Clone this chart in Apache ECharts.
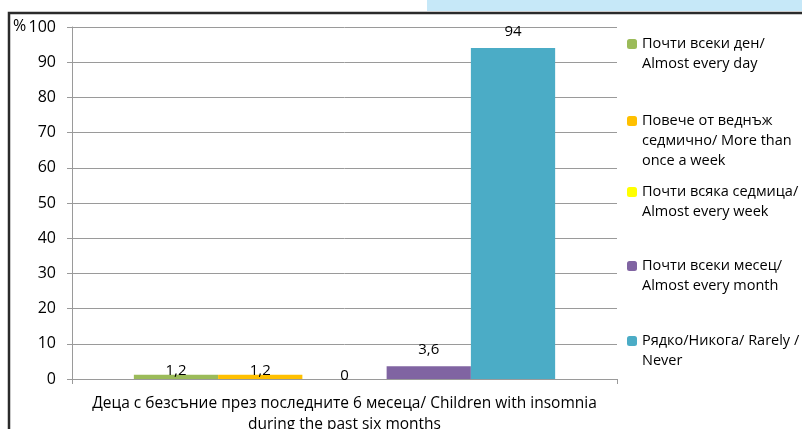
<!DOCTYPE html>
<html>
<head>
<meta charset="utf-8">
<script src="https://cdn.jsdelivr.net/npm/echarts@6/dist/echarts.min.js"></script>
<style>
  html, body { margin: 0; padding: 0; background: #fff; }
  #chart { width: 802px; height: 429px; }
</style>
</head>
<body>
<div id="chart"></div>
<script>
// Insomnia frequency among children (past six months), in percent
const categories = ['Деца с безсъние през последните 6 месеца/ Children with insomnia\nduring the past six months'];
const seriesNames = [
  'Почти всеки ден/ Almost every day',
  'Повече от веднъж седмично/ More than once a week',
  'Почти всяка седмица/ Almost every week',
  'Почти всеки месец/ Almost every month',
  'Рядко/Никога/ Rarely / Never'
];
const legendLinesText = [
  ['Почти всеки ден/', 'Almost every day'],
  ['Повече от веднъж', 'седмично/ More than', 'once a week'],
  ['Почти всяка седмица/', 'Almost every week'],
  ['Почти всеки месец/', 'Almost every month'],
  ['Рядко/Никога/ Rarely /', 'Never']
];
const values = [1.2, 1.2, 0, 3.6, 94];
const yTicks = { min: 0, max: 100, interval: 10 };

const colors = ['#9bbb59', '#ffc000', '#ffff00', '#8064a2', '#4bacc6'];
const labelDistance = [-3, -3, -4, 9, 9];
// vertical centre of the first text line of each legend entry
const legendFirstLine = [44, 121, 192, 266, 341];
const LINE_H = 20;
const FONT = '"Open Sans", "Noto Sans", sans-serif';

const chart = echarts.init(document.getElementById('chart'));

const series = seriesNames.map((name, i) => ({
  name: name,
  type: 'bar',
  data: [values[i]],
  barGap: '0%',
  barCategoryGap: '22.7%',
  itemStyle: { color: colors[i] },
  label: {
    show: true,
    position: 'top',
    distance: labelDistance[i],
    color: '#000',
    fontFamily: FONT,
    fontSize: 15,
    formatter: p => String(p.value).replace('.', ',')
  }
}));

// Each entry gets its own legend so the marker sits beside the first line:
// blank lines are prepended so the first text line is the block's middle line.
const legends = seriesNames.map((name, i) => {
  const lines = legendLinesText[i];
  const pad = lines.length - 1;
  const text = new Array(pad).fill(' ').concat(lines).join('\n');
  const total = pad + lines.length;
  return {
    data: [name],
    orient: 'vertical',
    left: 627,
    top: legendFirstLine[i] - total * LINE_H / 2,
    itemWidth: 10,
    itemHeight: 10,
    itemGap: 0,
    padding: 0,
    selectedMode: false,
    formatter: () => text,
    textStyle: {
      fontFamily: FONT,
      fontSize: 14.5,
      color: '#000',
      lineHeight: LINE_H
    }
  };
});

chart.setOption({
  animation: false,
  textStyle: { fontFamily: FONT },
  graphic: [
    { type: 'rect', shape: { x: 427, y: 0, width: 375, height: 11 }, style: { fill: '#c6e8f8' }, z: 0 },
    { type: 'polyline', shape: { points: [[9, 440], [9, 13], [810, 13]] }, style: { stroke: '#2b2b2b', lineWidth: 2.5, fill: null }, z: 10 },
    { type: 'text', left: 13, top: 18, style: { text: '%', fill: '#000', font: '16px ' + FONT } }
  ],
  legend: legends,
  grid: { left: 72, right: 185, top: 27, bottom: 50, containLabel: false, outerBoundsMode: 'none' },
  xAxis: {
    type: 'category',
    data: categories,
    axisLine: { lineStyle: { color: '#9a9a9a' } },
    axisTick: { show: true, length: 5, lineStyle: { color: '#9a9a9a' } },
    axisLabel: {
      color: '#000',
      fontFamily: FONT,
      fontSize: 15.5,
      lineHeight: 21,
      margin: 14
    }
  },
  yAxis: {
    type: 'value',
    min: yTicks.min,
    max: yTicks.max,
    interval: yTicks.interval,
    axisLine: { show: true, lineStyle: { color: '#9a9a9a' } },
    axisTick: { show: true, length: 5, lineStyle: { color: '#9a9a9a' } },
    splitLine: { lineStyle: { color: '#9a9a9a' } },
    axisLabel: { color: '#000', fontFamily: FONT, fontSize: 16, margin: 16 }
  },
  series: series
});
</script>
</body>
</html>
